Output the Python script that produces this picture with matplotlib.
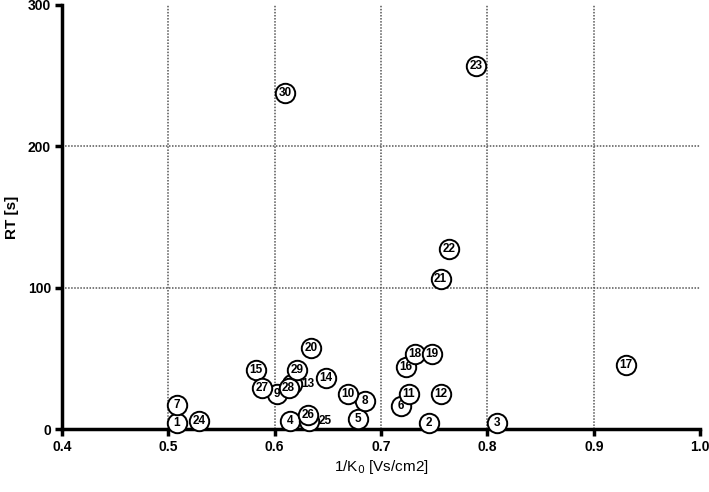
import matplotlib
matplotlib.use("Agg")
import matplotlib.pyplot as plt

plt.rcParams['font.family'] = ['Liberation Sans', 'DejaVu Sans']

# sample id, 1/K0, retention time
ids = list(range(1, 31))
k0 = [0.508, 0.745, 0.809, 0.614, 0.678, 0.719, 0.508, 0.685, 0.602, 0.669,
      0.726, 0.756, 0.616, 0.648, 0.582, 0.723, 0.930, 0.732, 0.748, 0.634,
      0.756, 0.764, 0.789, 0.529, 0.632, 0.631, 0.588, 0.613, 0.621, 0.610]
rt = [4.2, 4.0, 4.0, 6.0, 7.0, 16.0, 17.0, 20.0, 25.0, 25.0,
      25.0, 25.0, 32.0, 36.0, 42.0, 44.0, 45.0, 53.0, 53.0, 57.0,
      106.0, 127.0, 257.0, 6.0, 5.5, 10.0, 29.0, 29.0, 42.0, 238.0]
# labels written beside the circle because it is hidden by a neighbour
outside = [13, 25]

xticks = [0.4, 0.5, 0.6, 0.7, 0.8, 0.9, 1.0]
yticks = [0, 100, 200, 300]

fig = plt.figure(figsize=(7.09, 4.92), dpi=100)
ax = fig.add_axes([0.0875, 0.128, 0.900, 0.862])

for i, x, y in zip(ids, k0, rt):
    ax.plot(x, y, 'o', ms=14, mfc='white', mec='black', mew=1.4,
            zorder=3 + i * 0.01, clip_on=False)
    if i in outside:
        ax.annotate(str(i), (x, y), xytext=(7, 0), textcoords='offset points',
                    ha='left', va='center', fontsize=8.5, fontweight='bold',
                    zorder=4)
    else:
        ax.text(x, y, str(i), ha='center', va='center', fontsize=8.5,
                fontweight='bold', zorder=3 + i * 0.01 + 0.005)

# grid only on inner ticks
for t in xticks[1:-1]:
    ax.axvline(t, color='#555555', linestyle=(0, (1, 1)), linewidth=1.1, zorder=1)
for t in yticks[1:-1]:
    ax.axhline(t, color='#555555', linestyle=(0, (1, 1)), linewidth=1.1, zorder=1)

ax.set_xlim(0.4, 1.0)
ax.set_ylim(0, 300)
ax.set_xticks(xticks)
ax.set_yticks(yticks)
ax.set_xticklabels(['%.1f' % t for t in xticks], fontsize=10, fontweight='bold')
ax.set_yticklabels([str(t) for t in yticks], fontsize=10, fontweight='bold')

for s in ['top', 'right']:
    ax.spines[s].set_visible(False)
for s in ['left', 'bottom']:
    ax.spines[s].set_linewidth(2.5)
ax.tick_params(direction='out', width=2.5, length=5, pad=3)

ax.set_xlabel('1/K$_0$ [Vs/cm2]', fontsize=11, labelpad=3)
ax.set_ylabel('RT [s]', fontsize=11, fontweight='bold', labelpad=6)

fig.savefig('out.png', dpi=100)
